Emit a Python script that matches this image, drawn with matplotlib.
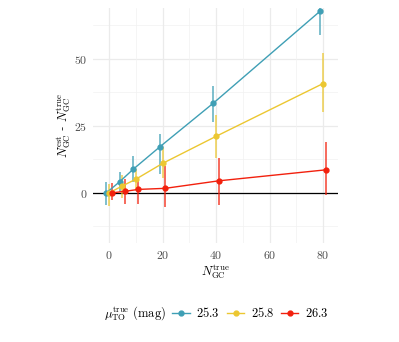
import numpy as np
import matplotlib
matplotlib.use('Agg')
from matplotlib import pyplot as plt
from matplotlib.ticker import FuncFormatter
from matplotlib.lines import Line2D
from matplotlib.offsetbox import HPacker

plt.rcParams['mathtext.fontset'] = 'cm'
plt.rcParams['font.family'] = 'serif'
plt.rcParams['font.serif'] = ['DejaVu Serif']

# данные: истинное число GC и оценки для трёх значений mu_TO
n_true = [0, 5, 10, 20, 40, 80]
mags = ['25.3', '25.8', '26.3']
colors = ['#3f9fb5', '#ecc731', '#f2200d']
dodge = [-1, 0, 1]

diff_253 = [0.0, 4.2, 8.8, 17.2, 33.5, 67.9]
lo_253 = [-4.5, 0.5, 4.2, 7.1, 26.4, 59.0]
hi_253 = [4.2, 7.9, 13.8, 21.9, 40.0, 69.5]

diff_258 = [0.0, 2.6, 5.1, 11.0, 21.1, 40.8]
lo_258 = [-5.0, -2.0, 1.0, 5.5, 13.0, 30.3]
hi_258 = [3.5, 6.7, 9.0, 17.3, 29.1, 52.1]

diff_263 = [0.0, 0.6, 1.3, 1.7, 4.5, 8.6]
lo_263 = [-2.8, -4.0, -4.2, -5.1, -4.7, -0.7]
hi_263 = [3.7, 5.1, 5.8, 10.0, 12.9, 19.1]

series = [(diff_253, lo_253, hi_253), (diff_258, lo_258, hi_258), (diff_263, lo_263, hi_263)]

fig = plt.figure(figsize=(3.99, 3.42), dpi=100)
ax = fig.add_axes([93/399, 1 - 243/342, 245/399, 235/342])

#сетка как в theme_minimal
for v in [-12.5, 12.5, 37.5, 62.5]:
    ax.axhline(v, color='#f2f2f2', lw=0.5, zorder=0)
for v in [0, 25, 50]:
    ax.axhline(v, color='#ebebeb', lw=0.9, zorder=0)
for v in [10, 30, 50, 70]:
    ax.axvline(v, color='#f2f2f2', lw=0.5, zorder=0)
for v in [0, 20, 40, 60, 80]:
    ax.axvline(v, color='#ebebeb', lw=0.9, zorder=0)
ax.axhline(0, color='black', lw=0.9, zorder=1)

for (d, lo, hi), c, dx in zip(series, colors, dodge):
    x = np.array(n_true) + dx
    ax.vlines(x, lo, hi, color=c, lw=1.1, alpha=0.85, zorder=2)
    ax.plot(x, d, color=c, lw=1.0, marker='o', ms=3.5, zorder=3)

ax.set_xlim(-6, 85.6)
ax.set_ylim(-18.7, 69.0)
ax.set_xticks([0, 20, 40, 60, 80])
ax.set_yticks([0, 25, 50])
fmt = FuncFormatter(lambda v, p: r'$%d$' % v)
ax.xaxis.set_major_formatter(fmt)
ax.yaxis.set_major_formatter(fmt)
ax.tick_params(length=0, labelsize=8.5, labelcolor='#4d4d4d', pad=4)
for s in ax.spines.values():
    s.set_visible(False)

ax.set_xlabel(r'$N_{\rm GC}^{\rm true}$', fontsize=9, labelpad=1)
ax.set_ylabel(r'$N_{\rm GC}^{\rm est}$ - $N_{\rm GC}^{\rm true}$', fontsize=9, labelpad=1)

handles = [Line2D([0], [0], color=c, lw=1.0, marker='o', ms=3.5) for c in colors]
leg = fig.legend(handles, [r'$%s$' % m for m in mags], loc='center', bbox_to_anchor=(216/399, 1 - 313/342),
                 ncol=3, frameon=False, fontsize=9, handlelength=1.4, columnspacing=0.55, handletextpad=0.5,
                 title=r'$\mu_{\rm TO}^{\rm true}$ $\rm (mag)$', title_fontsize=9)
# заголовок легенды слева от элементов
title_box = leg._legend_title_box
hbox = leg._legend_handle_box
leg._legend_box._children = [HPacker(pad=0, sep=5, children=[title_box, hbox], align='center')]

plt.savefig('out.png', dpi=100)
